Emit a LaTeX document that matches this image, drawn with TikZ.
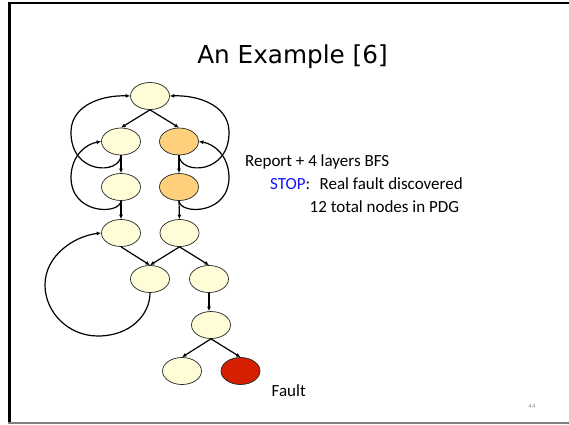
\documentclass[tikz,border=0pt]{standalone}
\usepackage{fontspec}
\setmainfont{Carlito}
\newfontfamily\titlefont{DejaVu Sans}
\usetikzlibrary{shapes.geometric,arrows.meta}
\definecolor{pale}{RGB}{255,253,215}
\definecolor{orng}{RGB}{254,208,124}
\definecolor{fred}{RGB}{212,32,0}
\definecolor{stopblue}{RGB}{20,20,255}
\begin{document}
\begin{tikzpicture}[x=1pt,y=-1pt,
  nd/.style={ellipse,draw=black!85,line width=0.7pt,minimum width=39pt,minimum height=27pt,inner sep=0pt},
  yl/.style={nd,fill=pale},
  og/.style={nd,fill=orng},
  rd/.style={nd,fill=fred},
  conn/.style={line width=1.2pt,-{Latex[length=4.5pt,width=4pt]}},
  txt/.style={font=\fontsize{17}{20}\selectfont,anchor=base west,inner sep=0pt}]
\useasboundingbox (0,0) rectangle (569,424);
\fill[white] (0,0) rectangle (569,424);
% slide frame
\draw[line width=2.7pt] (9.5,2) -- (9.5,424);
\draw[line width=1.4pt] (8,3) -- (569,3);
\draw[gray,line width=2pt] (8,423.2) -- (569,423.2);
% title
\node[anchor=base,inner sep=0pt] (title) at (292.5,63.3) {\titlefont\fontsize{24.7}{28}\selectfont An Example [6]};
% nodes
\node[yl] (n1) at (150,96) {};
\node[yl] (n2L) at (121,141.5) {};
\node[og] (n2R) at (179,141.5) {};
\node[yl] (n3L) at (121,187) {};
\node[og] (n3R) at (179,187) {};
\node[yl] (n4L) at (121,233) {};
\node[yl] (n4R) at (179.5,233) {};
\node[yl] (n5L) at (150,279) {};
\node[yl] (n5R) at (209,279) {};
\node[yl] (n6) at (211,325) {};
\node[yl] (n7L) at (182,371) {};
\node[rd] (n7R) at (240.5,371) {};
% forward edges
\draw[conn] (n1.south) -- (n2L.north);
\draw[conn] (n1.south) -- (n2R.north);
\draw[conn] (n2L.south) -- (n3L.north);
\draw[conn] (n2R.south) -- (n3R.north);
\draw[conn] (n3L.south) -- (n4L.north);
\draw[conn] (n3R.south) -- (n4R.north);
\draw[conn] (n4L.south) -- (n5L.north);
\draw[conn] (n4R.south) -- (n5L.north);
\draw[conn] (n4R.south) -- (n5R.north);
\draw[conn] (n5R.south) -- (n5R.south |- n6.north);
\draw[conn] (n6.south) -- (n7L.north);
\draw[conn] (n6.south) -- (n7R.north);
% back edges, left
\draw[conn] (n2L.south) .. controls (120,175) and (70,175) .. (71,131)
  .. controls (72,104) and (104,95) .. (n1.west);
\draw[conn] (n3L.south) .. controls (120,215) and (70,215) .. (71,176)
  .. controls (72,155) and (86,144) .. (n2L.west);
% back edges, right
\draw[conn] (n2R.south) .. controls (180,175) and (230,175) .. (229,131)
  .. controls (228,104) and (196,95) .. (n1.east);
\draw[conn] (n3R.south) .. controls (180,215) and (230,215) .. (229,176)
  .. controls (228,155) and (214,144) .. (n2R.east);
% long loop
\draw[conn] (n5L.south) .. controls (150,315) and (130,336) .. (98,336)
  .. controls (68,336) and (45,312) .. (45,285)
  .. controls (45,255) and (75,236) .. (n4L.west);
% texts
\node[txt] (t1) at (245,166.7) {Report + 4 layers BFS};
\node[txt] (t2) at (270,189.5) {\textcolor{stopblue}{STOP}:\hspace{0.55em}Real fault discovered};
\node[txt] (t3) at (309.5,212.5) {12 total nodes in PDG};
\node[txt] (fault) at (271.5,396.7) {Fault};
\node[inner sep=0pt,text=black!40] (pg) at (532,406) {\fontsize{7}{8}\selectfont 44};
\end{tikzpicture}
\end{document}
